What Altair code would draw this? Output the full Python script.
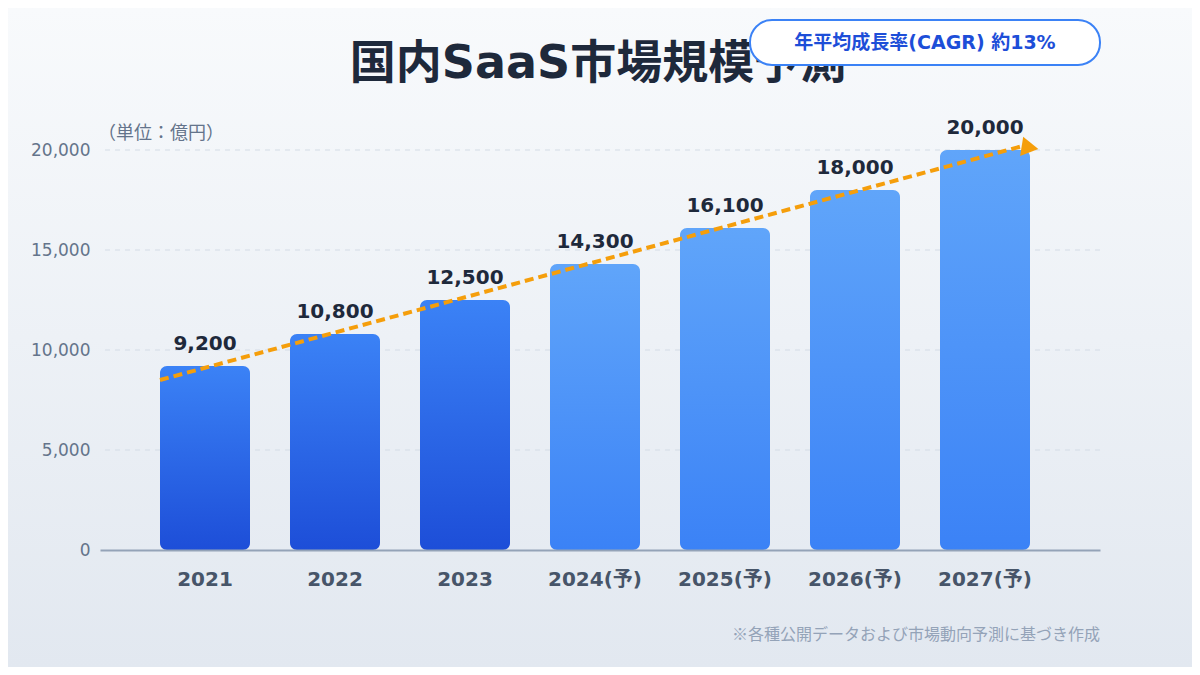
import altair as alt
import pandas as pd

# ---- data ----
years = ["2021", "2022", "2023", "2024(予)", "2025(予)", "2026(予)", "2027(予)"]
values = [9200, 10800, 12500, 14300, 16100, 18000, 20000]
kinds = ["actual", "actual", "actual", "forecast", "forecast", "forecast", "forecast"]
y_ticks = [0, 5000, 10000, 15000, 20000]
trend_start_year = ["2021"]
trend_end_year = ["2027(予)"]
trend_start_value = [8500]
trend_end_value = [20300]
arrow_value = [20120]

title_text = "国内SaaS市場規模予測"
badge_text = "年平均成長率(CAGR) 約13%"
unit_text = "（単位：億円）"
note_text = "※各種公開データおよび市場動向予測に基づき作成"

df = pd.DataFrame({"year": years, "value": values, "kind": kinds})
grid_df = pd.DataFrame({"value": y_ticks[1:]})
trend_df = pd.DataFrame({"y0": trend_start_year, "y1": trend_end_year,
                         "v0": trend_start_value, "v1": trend_end_value})
arrow_df = pd.DataFrame({"year": trend_end_year, "value": arrow_value})
one = pd.DataFrame({"k": [0]})

W, H = 1000, 400
LATIN = "DejaVu Sans, Noto Sans CJK JP"
CJK = "Noto Sans CJK JP"

xscale = alt.Scale(domain=years, paddingInner=40 / 130, paddingOuter=0.5, align=60 / 130)
yscale = alt.Scale(domain=[0, 20000], nice=False)

x_axis = alt.Axis(title=None, labelAngle=0, ticks=False, domainColor="#94a3b8", domainWidth=2,
                  labelFont=LATIN, labelFontSize=20, labelFontWeight="bold",
                  labelColor="#475569", labelPadding=19, zindex=1)
y_axis = alt.Axis(title=None, values=y_ticks, labelExpr="format(datum.value, ',')",
                  grid=False, domain=False, ticks=False,
                  labelFont=LATIN, labelFontSize=17, labelColor="#64748b", labelPadding=10, zindex=1)

X = dict(scale=xscale, axis=x_axis, sort=years)
Y = dict(scale=yscale, axis=y_axis)

bg = alt.Chart(one).mark_rect(
    fill=alt.Gradient(gradient="linear",
                      stops=[alt.GradientStop(color="#f8fafc", offset=0),
                             alt.GradientStop(color="#e2e8f0", offset=1)],
                      x1=0, x2=0, y1=0, y2=1)
).encode(x=alt.value(-92), x2=alt.value(W + 92), y=alt.value(-142), y2=alt.value(H + 117))

grid = alt.Chart(grid_df).mark_rule(color="#d3dbe5", strokeWidth=1.2, strokeDash=[5, 5]).encode(
    y=alt.Y("value:Q", **Y)
)

grad_actual = alt.Gradient(gradient="linear",
                           stops=[alt.GradientStop(color="#3b82f6", offset=0),
                                  alt.GradientStop(color="#1d4ed8", offset=1)],
                           x1=0, x2=0, y1=0, y2=1)
grad_fore = alt.Gradient(gradient="linear",
                         stops=[alt.GradientStop(color="#60a5fa", offset=0),
                                alt.GradientStop(color="#3b82f6", offset=1)],
                         x1=0, x2=0, y1=0, y2=1)

base = alt.Chart(df)
bars_a = base.transform_filter(alt.datum.kind == "actual").mark_bar(
    fill=grad_actual, cornerRadius=7).encode(
    x=alt.X("year:N", **X),
    y=alt.Y("value:Q", **Y),
)
bars_f = base.transform_filter(alt.datum.kind == "forecast").mark_bar(
    fill=grad_fore, cornerRadius=7).encode(
    x=alt.X("year:N", **X),
    y=alt.Y("value:Q", **Y),
)
labels = base.mark_text(font=LATIN, fontSize=20, fontWeight="bold", color="#1e293b",
                        baseline="alphabetic", dy=-16).encode(
    x=alt.X("year:N", **X),
    y=alt.Y("value:Q", **Y),
    text=alt.Text("value:Q", format=","),
)

trend = alt.Chart(trend_df).mark_rule(color="#f59e0b", strokeWidth=4, strokeDash=[9, 5]).encode(
    x=alt.X("y0:N", bandPosition=0, **X),
    x2=alt.X2("y1", bandPosition=1),
    y=alt.Y("v0:Q", **Y),
    y2="v1",
)
arrow = alt.Chart(arrow_df).mark_point(shape="triangle-right", filled=True, size=380, angle=9,
                                       color="#f59e0b", opacity=1).encode(
    x=alt.X("year:N", bandPosition=1, **X),
    y=alt.Y("value:Q", **Y),
)

title = alt.Chart(one).mark_text(text=title_text, font=LATIN, fontSize=46, fontWeight="bold",
                                 color="#1e293b", align="center", baseline="alphabetic").encode(
    x=alt.value(498), y=alt.value(-72))
badge = alt.Chart(one).mark_rect(fill="#ffffff", stroke="#3b82f6", strokeWidth=2,
                                 cornerRadius=22).encode(
    x=alt.value(650), x2=alt.value(1000), y=alt.value(-130), y2=alt.value(-85))
badge_t = alt.Chart(one).mark_text(text=badge_text, font=LATIN, fontSize=19, fontWeight="bold",
                                   color="#1d4ed8", align="center", baseline="alphabetic").encode(
    x=alt.value(825), y=alt.value(-101))
unit = alt.Chart(one).mark_text(text=unit_text, font=CJK, fontSize=18, color="#64748b",
                                align="left", baseline="alphabetic").encode(
    x=alt.value(-2), y=alt.value(-11))
note = alt.Chart(one).mark_text(text=note_text, font=CJK, fontSize=16, color="#94a3b8",
                                align="right", baseline="alphabetic").encode(
    x=alt.value(1000), y=alt.value(490))

chart = alt.layer(bg, grid, bars_a, bars_f, labels, trend, arrow, title, badge, badge_t, unit, note).properties(
    width=W, height=H,
    autosize=alt.AutoSizeParams(type="none"),
    padding={"left": 92, "top": 142, "right": 92, "bottom": 117},
    background="#f1f5f9",
).configure_view(strokeWidth=0)

chart.save("out.html", embed_options={"renderer": "svg", "actions": False})
